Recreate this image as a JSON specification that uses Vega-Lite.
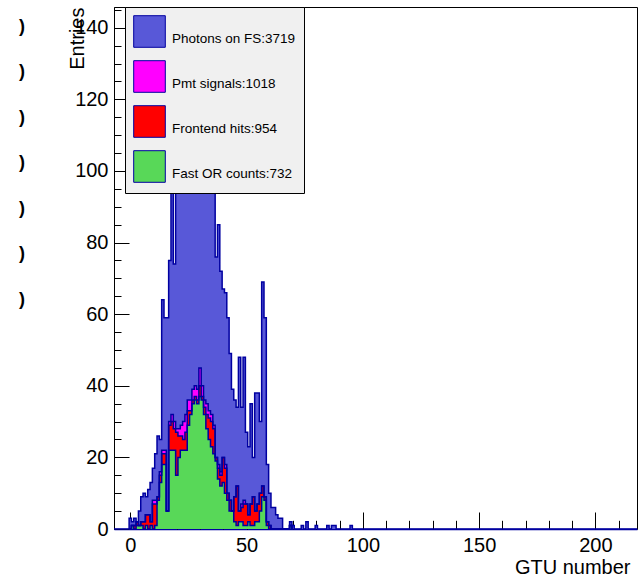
{
"$schema": "https://vega.github.io/schema/vega-lite/v6.json",
"width": 523, "height": 522,
"autosize": {"type": "none"},
"padding": {"left": 114, "top": 7, "right": 1, "bottom": 51},
"background": "white",
"config": {"view": {"stroke": "black", "strokeWidth": 1}, "font": "Liberation Sans", "axis": {"grid": false, "labelFont": "Liberation Sans", "titleFont": "Liberation Sans", "labelColor": "black", "titleColor": "black", "tickColor": "black", "zindex": 2}},
"datasets": {"h": [
{"s":"Photons on FS:3719","g":-7,"n":0},
{"s":"Photons on FS:3719","g":-0.5,"n":3},{"s":"Photons on FS:3719","g":0.5,"n":2},{"s":"Photons on FS:3719","g":1.5,"n":3},{"s":"Photons on FS:3719","g":2.5,"n":2},{"s":"Photons on FS:3719","g":3.5,"n":5},{"s":"Photons on FS:3719","g":4.5,"n":9},{"s":"Photons on FS:3719","g":5.5,"n":10},{"s":"Photons on FS:3719","g":6.5,"n":9},{"s":"Photons on FS:3719","g":7.5,"n":11},{"s":"Photons on FS:3719","g":8.5,"n":13},
{"s":"Photons on FS:3719","g":9.5,"n":17},{"s":"Photons on FS:3719","g":10.5,"n":21},{"s":"Photons on FS:3719","g":11.5,"n":26},{"s":"Photons on FS:3719","g":12.5,"n":25},{"s":"Photons on FS:3719","g":13.5,"n":64},{"s":"Photons on FS:3719","g":14.5,"n":59},{"s":"Photons on FS:3719","g":15.5,"n":59},{"s":"Photons on FS:3719","g":16.5,"n":75},{"s":"Photons on FS:3719","g":17.5,"n":100},{"s":"Photons on FS:3719","g":18.5,"n":74},
{"s":"Photons on FS:3719","g":19.5,"n":105},{"s":"Photons on FS:3719","g":20.5,"n":112},{"s":"Photons on FS:3719","g":21.5,"n":118},{"s":"Photons on FS:3719","g":22.5,"n":124},{"s":"Photons on FS:3719","g":23.5,"n":130},{"s":"Photons on FS:3719","g":24.5,"n":137},{"s":"Photons on FS:3719","g":25.5,"n":139},{"s":"Photons on FS:3719","g":26.5,"n":132},{"s":"Photons on FS:3719","g":27.5,"n":127},{"s":"Photons on FS:3719","g":28.5,"n":128},
{"s":"Photons on FS:3719","g":29.5,"n":124},{"s":"Photons on FS:3719","g":30.5,"n":118},{"s":"Photons on FS:3719","g":31.5,"n":117},{"s":"Photons on FS:3719","g":32.5,"n":110},{"s":"Photons on FS:3719","g":33.5,"n":106},{"s":"Photons on FS:3719","g":34.5,"n":98},{"s":"Photons on FS:3719","g":35.5,"n":94},{"s":"Photons on FS:3719","g":36.5,"n":76},{"s":"Photons on FS:3719","g":37.5,"n":85},{"s":"Photons on FS:3719","g":38.5,"n":72},
{"s":"Photons on FS:3719","g":39.5,"n":67},{"s":"Photons on FS:3719","g":40.5,"n":66},{"s":"Photons on FS:3719","g":41.5,"n":59},{"s":"Photons on FS:3719","g":42.5,"n":49},{"s":"Photons on FS:3719","g":43.5,"n":39},{"s":"Photons on FS:3719","g":44.5,"n":36},{"s":"Photons on FS:3719","g":45.5,"n":34},{"s":"Photons on FS:3719","g":46.5,"n":48},{"s":"Photons on FS:3719","g":47.5,"n":34},{"s":"Photons on FS:3719","g":48.5,"n":48},
{"s":"Photons on FS:3719","g":49.5,"n":27},{"s":"Photons on FS:3719","g":50.5,"n":23},{"s":"Photons on FS:3719","g":51.5,"n":35},{"s":"Photons on FS:3719","g":52.5,"n":20},{"s":"Photons on FS:3719","g":53.5,"n":38},{"s":"Photons on FS:3719","g":54.5,"n":38},{"s":"Photons on FS:3719","g":55.5,"n":30},{"s":"Photons on FS:3719","g":56.5,"n":69},{"s":"Photons on FS:3719","g":57.5,"n":59},{"s":"Photons on FS:3719","g":58.5,"n":18},
{"s":"Photons on FS:3719","g":59.5,"n":10},{"s":"Photons on FS:3719","g":60.5,"n":6},{"s":"Photons on FS:3719","g":61.5,"n":6},{"s":"Photons on FS:3719","g":62.5,"n":4},{"s":"Photons on FS:3719","g":63.5,"n":3},{"s":"Photons on FS:3719","g":64.5,"n":3},{"s":"Photons on FS:3719","g":65.5,"n":0},{"s":"Photons on FS:3719","g":66.5,"n":0},{"s":"Photons on FS:3719","g":67.5,"n":0},{"s":"Photons on FS:3719","g":68.5,"n":2},
{"s":"Photons on FS:3719","g":69.5,"n":1},{"s":"Photons on FS:3719","g":70.5,"n":0},{"s":"Photons on FS:3719","g":73.5,"n":1},{"s":"Photons on FS:3719","g":74.5,"n":0},{"s":"Photons on FS:3719","g":75.5,"n":2},{"s":"Photons on FS:3719","g":76.5,"n":0},{"s":"Photons on FS:3719","g":79.5,"n":1},{"s":"Photons on FS:3719","g":80.5,"n":0},{"s":"Photons on FS:3719","g":84.5,"n":1},{"s":"Photons on FS:3719","g":85.5,"n":0},
{"s":"Photons on FS:3719","g":86.5,"n":1},{"s":"Photons on FS:3719","g":87.5,"n":1},{"s":"Photons on FS:3719","g":88.5,"n":0},{"s":"Photons on FS:3719","g":94.5,"n":1},{"s":"Photons on FS:3719","g":95.5,"n":0},{"s":"Photons on FS:3719","g":217.9,"n":0},

{"s":"Pmt signals:1018","g":-0.5,"n":0},{"s":"Pmt signals:1018","g":0.5,"n":1},{"s":"Pmt signals:1018","g":1.5,"n":1},{"s":"Pmt signals:1018","g":2.5,"n":2},{"s":"Pmt signals:1018","g":3.5,"n":1},{"s":"Pmt signals:1018","g":4.5,"n":2},{"s":"Pmt signals:1018","g":5.5,"n":2},{"s":"Pmt signals:1018","g":6.5,"n":4},{"s":"Pmt signals:1018","g":7.5,"n":4},{"s":"Pmt signals:1018","g":8.5,"n":2},
{"s":"Pmt signals:1018","g":9.5,"n":8},{"s":"Pmt signals:1018","g":10.5,"n":8},{"s":"Pmt signals:1018","g":11.5,"n":9},{"s":"Pmt signals:1018","g":12.5,"n":16},{"s":"Pmt signals:1018","g":13.5,"n":22},{"s":"Pmt signals:1018","g":14.5,"n":22},{"s":"Pmt signals:1018","g":15.5,"n":5},{"s":"Pmt signals:1018","g":16.5,"n":30},{"s":"Pmt signals:1018","g":17.5,"n":32},{"s":"Pmt signals:1018","g":18.5,"n":30},
{"s":"Pmt signals:1018","g":19.5,"n":28},{"s":"Pmt signals:1018","g":20.5,"n":28},{"s":"Pmt signals:1018","g":21.5,"n":29},{"s":"Pmt signals:1018","g":22.5,"n":30},{"s":"Pmt signals:1018","g":23.5,"n":32},{"s":"Pmt signals:1018","g":24.5,"n":36},{"s":"Pmt signals:1018","g":25.5,"n":36},{"s":"Pmt signals:1018","g":26.5,"n":39},{"s":"Pmt signals:1018","g":27.5,"n":40},{"s":"Pmt signals:1018","g":28.5,"n":39},
{"s":"Pmt signals:1018","g":29.5,"n":45},{"s":"Pmt signals:1018","g":30.5,"n":40},{"s":"Pmt signals:1018","g":31.5,"n":36},{"s":"Pmt signals:1018","g":32.5,"n":35},{"s":"Pmt signals:1018","g":33.5,"n":33},{"s":"Pmt signals:1018","g":34.5,"n":32},{"s":"Pmt signals:1018","g":35.5,"n":29},{"s":"Pmt signals:1018","g":36.5,"n":20},{"s":"Pmt signals:1018","g":37.5,"n":18},{"s":"Pmt signals:1018","g":38.5,"n":16},
{"s":"Pmt signals:1018","g":39.5,"n":20},{"s":"Pmt signals:1018","g":40.5,"n":18},{"s":"Pmt signals:1018","g":41.5,"n":10},{"s":"Pmt signals:1018","g":42.5,"n":8},{"s":"Pmt signals:1018","g":43.5,"n":5},{"s":"Pmt signals:1018","g":44.5,"n":9},{"s":"Pmt signals:1018","g":45.5,"n":12},{"s":"Pmt signals:1018","g":46.5,"n":5},{"s":"Pmt signals:1018","g":47.5,"n":7},{"s":"Pmt signals:1018","g":48.5,"n":8},
{"s":"Pmt signals:1018","g":49.5,"n":7},{"s":"Pmt signals:1018","g":50.5,"n":4},{"s":"Pmt signals:1018","g":51.5,"n":7},{"s":"Pmt signals:1018","g":52.5,"n":9},{"s":"Pmt signals:1018","g":53.5,"n":5},{"s":"Pmt signals:1018","g":54.5,"n":7},{"s":"Pmt signals:1018","g":55.5,"n":10},{"s":"Pmt signals:1018","g":56.5,"n":12},{"s":"Pmt signals:1018","g":57.5,"n":9},{"s":"Pmt signals:1018","g":58.5,"n":2},
{"s":"Pmt signals:1018","g":59.5,"n":1},{"s":"Pmt signals:1018","g":60.5,"n":0},{"s":"Pmt signals:1018","g":68.5,"n":1},{"s":"Pmt signals:1018","g":69.5,"n":0},

{"s":"Frontend hits:954","g":-0.5,"n":0},{"s":"Frontend hits:954","g":0.5,"n":1},{"s":"Frontend hits:954","g":1.5,"n":1},{"s":"Frontend hits:954","g":2.5,"n":2},{"s":"Frontend hits:954","g":3.5,"n":1},{"s":"Frontend hits:954","g":4.5,"n":2},{"s":"Frontend hits:954","g":5.5,"n":2},{"s":"Frontend hits:954","g":6.5,"n":4},{"s":"Frontend hits:954","g":7.5,"n":4},{"s":"Frontend hits:954","g":8.5,"n":2},
{"s":"Frontend hits:954","g":9.5,"n":7},{"s":"Frontend hits:954","g":10.5,"n":7},{"s":"Frontend hits:954","g":11.5,"n":9},{"s":"Frontend hits:954","g":12.5,"n":15},{"s":"Frontend hits:954","g":13.5,"n":21},{"s":"Frontend hits:954","g":14.5,"n":21},{"s":"Frontend hits:954","g":15.5,"n":5},{"s":"Frontend hits:954","g":16.5,"n":29},{"s":"Frontend hits:954","g":17.5,"n":30},{"s":"Frontend hits:954","g":18.5,"n":28},
{"s":"Frontend hits:954","g":19.5,"n":27},{"s":"Frontend hits:954","g":20.5,"n":26},{"s":"Frontend hits:954","g":21.5,"n":26},{"s":"Frontend hits:954","g":22.5,"n":25},{"s":"Frontend hits:954","g":23.5,"n":27},{"s":"Frontend hits:954","g":24.5,"n":33},{"s":"Frontend hits:954","g":25.5,"n":33},{"s":"Frontend hits:954","g":26.5,"n":36},{"s":"Frontend hits:954","g":27.5,"n":37},{"s":"Frontend hits:954","g":28.5,"n":36},
{"s":"Frontend hits:954","g":29.5,"n":40},{"s":"Frontend hits:954","g":30.5,"n":37},{"s":"Frontend hits:954","g":31.5,"n":34},{"s":"Frontend hits:954","g":32.5,"n":32},{"s":"Frontend hits:954","g":33.5,"n":31},{"s":"Frontend hits:954","g":34.5,"n":30},{"s":"Frontend hits:954","g":35.5,"n":28},{"s":"Frontend hits:954","g":36.5,"n":20},{"s":"Frontend hits:954","g":37.5,"n":17},{"s":"Frontend hits:954","g":38.5,"n":15},
{"s":"Frontend hits:954","g":39.5,"n":20},{"s":"Frontend hits:954","g":40.5,"n":17},{"s":"Frontend hits:954","g":41.5,"n":10},{"s":"Frontend hits:954","g":42.5,"n":8},{"s":"Frontend hits:954","g":43.5,"n":5},{"s":"Frontend hits:954","g":44.5,"n":9},{"s":"Frontend hits:954","g":45.5,"n":12},{"s":"Frontend hits:954","g":46.5,"n":5},{"s":"Frontend hits:954","g":47.5,"n":6},{"s":"Frontend hits:954","g":48.5,"n":7},
{"s":"Frontend hits:954","g":49.5,"n":7},{"s":"Frontend hits:954","g":50.5,"n":4},{"s":"Frontend hits:954","g":51.5,"n":7},{"s":"Frontend hits:954","g":52.5,"n":9},{"s":"Frontend hits:954","g":53.5,"n":5},{"s":"Frontend hits:954","g":54.5,"n":7},{"s":"Frontend hits:954","g":55.5,"n":10},{"s":"Frontend hits:954","g":56.5,"n":12},{"s":"Frontend hits:954","g":57.5,"n":9},{"s":"Frontend hits:954","g":58.5,"n":2},
{"s":"Frontend hits:954","g":59.5,"n":1},{"s":"Frontend hits:954","g":60.5,"n":0},{"s":"Frontend hits:954","g":68.5,"n":1},{"s":"Frontend hits:954","g":69.5,"n":0},

{"s":"Fast OR counts:732","g":-0.5,"n":0},{"s":"Fast OR counts:732","g":0.5,"n":1},{"s":"Fast OR counts:732","g":1.5,"n":0},{"s":"Fast OR counts:732","g":2.5,"n":1},{"s":"Fast OR counts:732","g":3.5,"n":1},{"s":"Fast OR counts:732","g":4.5,"n":1},{"s":"Fast OR counts:732","g":5.5,"n":0},{"s":"Fast OR counts:732","g":6.5,"n":1},{"s":"Fast OR counts:732","g":7.5,"n":0},{"s":"Fast OR counts:732","g":8.5,"n":1},
{"s":"Fast OR counts:732","g":9.5,"n":0},{"s":"Fast OR counts:732","g":10.5,"n":1},{"s":"Fast OR counts:732","g":11.5,"n":8},{"s":"Fast OR counts:732","g":12.5,"n":13},{"s":"Fast OR counts:732","g":13.5,"n":18},{"s":"Fast OR counts:732","g":14.5,"n":18},{"s":"Fast OR counts:732","g":15.5,"n":5},{"s":"Fast OR counts:732","g":16.5,"n":22},{"s":"Fast OR counts:732","g":17.5,"n":22},{"s":"Fast OR counts:732","g":18.5,"n":22},
{"s":"Fast OR counts:732","g":19.5,"n":15},{"s":"Fast OR counts:732","g":20.5,"n":20},{"s":"Fast OR counts:732","g":21.5,"n":22},{"s":"Fast OR counts:732","g":22.5,"n":22},{"s":"Fast OR counts:732","g":23.5,"n":22},{"s":"Fast OR counts:732","g":24.5,"n":29},{"s":"Fast OR counts:732","g":25.5,"n":32},{"s":"Fast OR counts:732","g":26.5,"n":35},{"s":"Fast OR counts:732","g":27.5,"n":36},{"s":"Fast OR counts:732","g":28.5,"n":35},
{"s":"Fast OR counts:732","g":29.5,"n":37},{"s":"Fast OR counts:732","g":30.5,"n":36},{"s":"Fast OR counts:732","g":31.5,"n":32},{"s":"Fast OR counts:732","g":32.5,"n":28},{"s":"Fast OR counts:732","g":33.5,"n":25},{"s":"Fast OR counts:732","g":34.5,"n":23},{"s":"Fast OR counts:732","g":35.5,"n":21},{"s":"Fast OR counts:732","g":36.5,"n":19},{"s":"Fast OR counts:732","g":37.5,"n":14},{"s":"Fast OR counts:732","g":38.5,"n":12},
{"s":"Fast OR counts:732","g":39.5,"n":13},{"s":"Fast OR counts:732","g":40.5,"n":10},{"s":"Fast OR counts:732","g":41.5,"n":8},{"s":"Fast OR counts:732","g":42.5,"n":5},{"s":"Fast OR counts:732","g":43.5,"n":5},{"s":"Fast OR counts:732","g":44.5,"n":2},{"s":"Fast OR counts:732","g":45.5,"n":1},{"s":"Fast OR counts:732","g":46.5,"n":2},{"s":"Fast OR counts:732","g":47.5,"n":2},{"s":"Fast OR counts:732","g":48.5,"n":1},
{"s":"Fast OR counts:732","g":49.5,"n":1},{"s":"Fast OR counts:732","g":50.5,"n":2},{"s":"Fast OR counts:732","g":51.5,"n":1},{"s":"Fast OR counts:732","g":52.5,"n":1},{"s":"Fast OR counts:732","g":53.5,"n":2},{"s":"Fast OR counts:732","g":54.5,"n":2},{"s":"Fast OR counts:732","g":55.5,"n":5},{"s":"Fast OR counts:732","g":56.5,"n":9},{"s":"Fast OR counts:732","g":57.5,"n":8},{"s":"Fast OR counts:732","g":58.5,"n":1},
{"s":"Fast OR counts:732","g":59.5,"n":0},{"s":"Fast OR counts:732","g":68.5,"n":1},{"s":"Fast OR counts:732","g":69.5,"n":0}
]},
"data": {"name": "h"},
"resolve": {"axis": {"x": "independent", "y": "independent"}},
"layer": [
{"transform": [{"filter": "datum.s == 'Photons on FS:3719'"}],
 "mark": {"type": "area", "interpolate": "step-after"},
 "encoding": {
  "x": {"field": "g", "type": "quantitative", "scale": {"domain": [-7, 217.9], "nice": false, "zero": false},
        "axis": {"orient": "bottom", "values": [0, 50, 100, 150, 200], "ticks": false, "labelFontSize": 20, "labelPadding": 6, "labelFlush": false, "labelOverlap": false, "domainColor": "#0000a0", "domainWidth": 1.5, "title": "GTU number", "titleFontSize": 20, "titleFontWeight": "normal", "titleX": 516, "titleY": 44, "titleAlign": "right", "titleBaseline": "alphabetic"}},
  "y": {"field": "n", "type": "quantitative", "stack": null, "scale": {"domain": [0, 145.8], "nice": false},
        "axis": {"orient": "left", "values": [0, 20, 40, 60, 80, 100, 120, 140], "ticks": false, "labelFontSize": 20, "labelPadding": 6, "labelFlush": false, "labelOverlap": false, "domainColor": "black", "title": "Entries", "titleFontSize": 20, "titleFontWeight": "normal", "titleAngle": 270, "titleX": -31, "titleY": 0, "titleAlign": "right", "titleBaseline": "alphabetic"}},
  "color": {"field": "s", "type": "nominal",
    "scale": {"domain": ["Photons on FS:3719", "Pmt signals:1018", "Frontend hits:954", "Fast OR counts:732"], "range": ["#5858d8", "#ff00ff", "#ff0000", "#58d858"]},
    "legend": {"title": null, "orient": "none", "legendX": 11, "legendY": 0, "symbolType": "square", "symbolSize": 1000, "symbolStrokeColor": "#0000a0", "symbolStrokeWidth": 1, "symbolOpacity": 1, "fillColor": "#f0f0f0", "strokeColor": "black", "padding": 8, "rowPadding": 8, "labelFont": "Liberation Sans", "labelFontSize": 13.5, "labelColor": "black", "labelOffset": 6, "labelBaseline": "top", "labelLimit": 300}}
 }},
{"transform": [{"filter": "datum.s == 'Pmt signals:1018'"}],
 "mark": {"type": "area", "interpolate": "step-after"},
 "encoding": {
  "x": {"field": "g", "type": "quantitative", "axis": {"orient": "bottom", "values": [0, 50, 100, 150, 200], "tickSize": -17, "labels": false, "domain": false, "title": null}},
  "y": {"field": "n", "type": "quantitative", "stack": null, "axis": {"orient": "left", "values": [0, 20, 40, 60, 80, 100, 120, 140], "tickSize": -15, "labels": false, "domain": false, "title": null}},
  "color": {"field": "s", "type": "nominal",
    "scale": {"domain": ["Photons on FS:3719", "Pmt signals:1018", "Frontend hits:954", "Fast OR counts:732"], "range": ["#5858d8", "#ff00ff", "#ff0000", "#58d858"]},
    "legend": {"title": null, "orient": "none", "legendX": 11, "legendY": 0, "symbolType": "square", "symbolSize": 1000, "symbolStrokeColor": "#0000a0", "symbolStrokeWidth": 1, "symbolOpacity": 1, "fillColor": "#f0f0f0", "strokeColor": "black", "padding": 8, "rowPadding": 8, "labelFont": "Liberation Sans", "labelFontSize": 13.5, "labelColor": "black", "labelOffset": 6, "labelBaseline": "top", "labelLimit": 300}}
 }},
{"transform": [{"filter": "datum.s == 'Frontend hits:954'"}],
 "mark": {"type": "area", "interpolate": "step-after"},
 "encoding": {
  "x": {"field": "g", "type": "quantitative", "axis": {"orient": "bottom", "values": [0, 10, 20, 30, 40, 50, 60, 70, 80, 90, 100, 110, 120, 130, 140, 150, 160, 170, 180, 190, 200, 210], "tickSize": -8.7, "labels": false, "domain": false, "title": null}},
  "y": {"field": "n", "type": "quantitative", "stack": null, "axis": {"orient": "left", "values": [0, 5, 10, 15, 20, 25, 30, 35, 40, 45, 50, 55, 60, 65, 70, 75, 80, 85, 90, 95, 100, 105, 110, 115, 120, 125, 130, 135, 140, 145], "tickSize": -7, "labels": false, "domain": false, "title": null}},
  "color": {"field": "s", "type": "nominal",
    "scale": {"domain": ["Photons on FS:3719", "Pmt signals:1018", "Frontend hits:954", "Fast OR counts:732"], "range": ["#5858d8", "#ff00ff", "#ff0000", "#58d858"]},
    "legend": {"title": null, "orient": "none", "legendX": 11, "legendY": 0, "symbolType": "square", "symbolSize": 1000, "symbolStrokeColor": "#0000a0", "symbolStrokeWidth": 1, "symbolOpacity": 1, "fillColor": "#f0f0f0", "strokeColor": "black", "padding": 8, "rowPadding": 8, "labelFont": "Liberation Sans", "labelFontSize": 13.5, "labelColor": "black", "labelOffset": 6, "labelBaseline": "top", "labelLimit": 300}}
 }},
{"transform": [{"filter": "datum.s == 'Fast OR counts:732'"}],
 "mark": {"type": "area", "interpolate": "step-after"},
 "encoding": {
  "x": {"field": "g", "type": "quantitative", "axis": null},
  "y": {"field": "n", "type": "quantitative", "stack": null, "axis": null},
  "color": {"field": "s", "type": "nominal",
    "scale": {"domain": ["Photons on FS:3719", "Pmt signals:1018", "Frontend hits:954", "Fast OR counts:732"], "range": ["#5858d8", "#ff00ff", "#ff0000", "#58d858"]},
    "legend": {"title": null, "orient": "none", "legendX": 11, "legendY": 0, "symbolType": "square", "symbolSize": 1000, "symbolStrokeColor": "#0000a0", "symbolStrokeWidth": 1, "symbolOpacity": 1, "fillColor": "#f0f0f0", "strokeColor": "black", "padding": 8, "rowPadding": 8, "labelFont": "Liberation Sans", "labelFontSize": 13.5, "labelColor": "black", "labelOffset": 6, "labelBaseline": "top", "labelLimit": 300}}
 }},
{"mark": {"type": "line", "interpolate": "step-after", "color": "#0000a0", "strokeWidth": 1.5},
 "encoding": {
  "x": {"field": "g", "type": "quantitative", "axis": null},
  "y": {"field": "n", "type": "quantitative", "axis": null},
  "detail": {"field": "s", "type": "nominal"}
 }},
{"data": {"values": [{"xv": -46.6, "yv": 140.2}, {"xv": -46.6, "yv": 127.6}, {"xv": -46.6, "yv": 114.8}, {"xv": -46.6, "yv": 102.2}, {"xv": -46.6, "yv": 89.4}, {"xv": -46.6, "yv": 76.8}, {"xv": -46.6, "yv": 63.9}]},
 "mark": {"type": "text", "text": ")", "fontSize": 18, "fontWeight": "bold", "align": "center", "baseline": "middle", "color": "black", "font": "Liberation Sans"},
 "encoding": {
  "x": {"field": "xv", "type": "quantitative", "axis": null},
  "y": {"field": "yv", "type": "quantitative", "axis": null}
 }}
]
}
